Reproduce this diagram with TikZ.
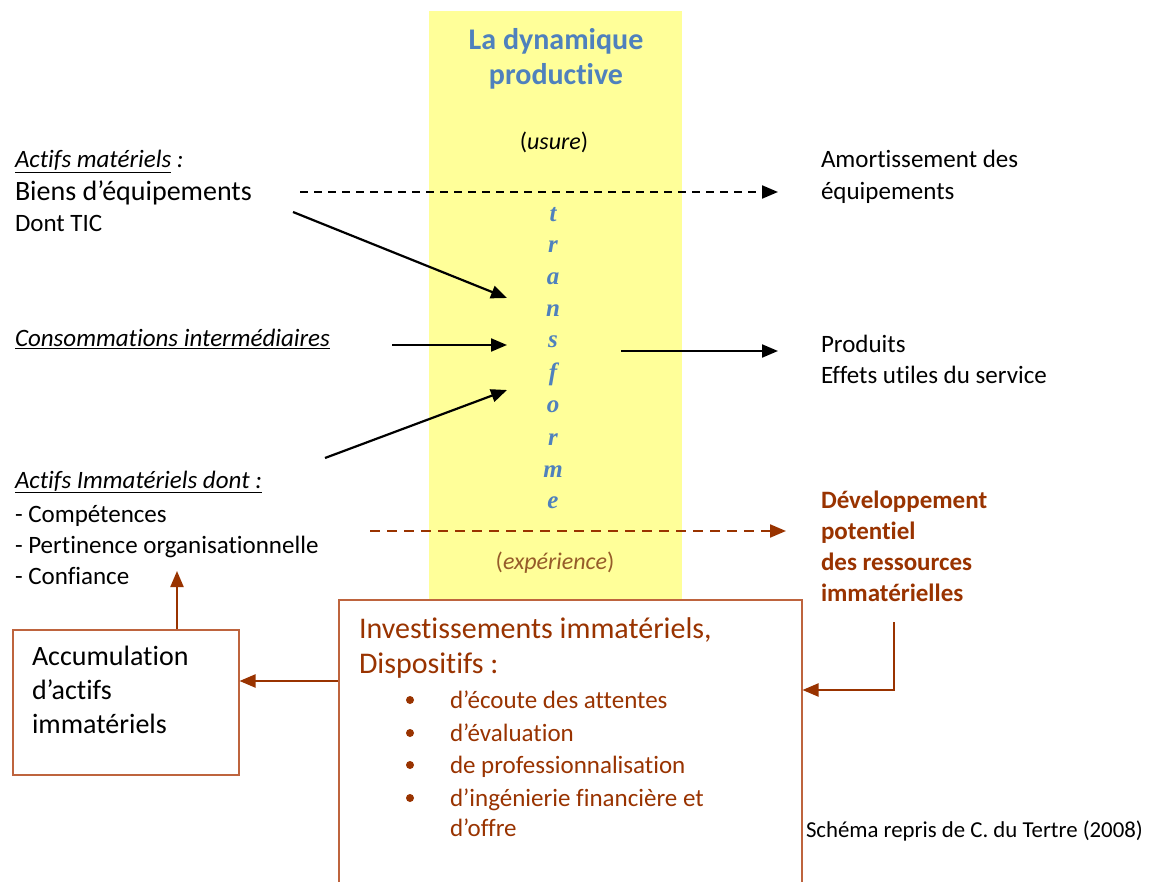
\documentclass[tikz,border=0pt]{standalone}
\usepackage{fontspec}
\setmainfont{Carlito}[Ligatures={NoCommon}]
\newfontfamily\lettersfont{Liberation Serif}
\usetikzlibrary{arrows.meta}
\definecolor{titleblue}{RGB}{79,129,189}
\definecolor{paleyellow}{RGB}{255,255,153}
\definecolor{rust}{RGB}{153,51,0}
\definecolor{boxbrown}{RGB}{190,100,62}
\definecolor{expcol}{RGB}{150,92,42}
\tikzset{
  txt/.style={anchor=base west, inner sep=0pt, outer sep=0pt},
  body/.style={txt, font=\fontsize{25}{30}\selectfont},
  letter/.style={anchor=base, inner sep=0pt, text=titleblue, font=\lettersfont\bfseries\itshape\fontsize{25}{29}\selectfont},
  blackarrow/.style={line width=2.2pt, -{Triangle[length=16pt,width=13pt]}},
  rustarrow/.style={line width=2.2pt, draw=rust, -{Triangle[length=16pt,width=13pt]}, rust},
  brownbox/.style={draw=boxbrown, line width=1.5pt, inner sep=0pt, anchor=north west},
}
\begin{document}
\begin{tikzpicture}[x=1pt,y=-1pt]
\useasboundingbox[fill=white] (0,0) rectangle (1154,882);

% yellow band
\node[fill=paleyellow, inner sep=0pt, anchor=north west, minimum width=253pt, minimum height=588pt] (band) at (429,11) {};

% title
\node[anchor=base, inner sep=0pt, text=titleblue, font=\bfseries\fontsize{30}{36}\selectfont] (t1) at (556,50) {La dynamique};
\node[anchor=base, inner sep=0pt, text=titleblue, font=\bfseries\fontsize{30}{36}\selectfont] (t2) at (556,85) {productive};
\node[anchor=base, inner sep=0pt, font=\fontsize{24}{29}\selectfont] (usure) at (554,150) {(\textit{usure})};

% vertical letters
\node[letter] (l1) at (553,222) {t};
\node[letter] (l2) at (553,253) {r};
\node[letter] (l3) at (553,285) {a};
\node[letter] (l4) at (553,317) {n};
\node[letter] (l5) at (553,348) {s};
\node[letter] (l6) at (553,381) {f};
\node[letter] (l7) at (553,413) {o};
\node[letter] (l8) at (553,445) {r};
\node[letter] (l9) at (553,477) {m};
\node[letter] (l10) at (553,508) {e};

\node[anchor=base, inner sep=0pt, text=expcol, font=\fontsize{24}{29}\selectfont] (exp) at (555,569) {(\textit{expérience})};

% left texts
\node[body] (am) at (15,168) {\textit{\underline{Actifs matériels}} \textit{:}};
\node[txt, font=\fontsize{28}{33}\selectfont] (biens) at (15,201) {Biens d’équipements};
\node[body] (tic) at (15,232) {Dont TIC};
\node[body] (ci) at (15,347) {\textit{\underline{Consommations intermédiaires}}};
\node[body] (ai) at (15,488) {\textit{\underline{Actifs Immatériels dont :}}};
\node[body] (c1) at (15,522) {- Compétences};
\node[body] (c2) at (15,553) {- Pertinence organisationnelle};
\node[body] (c3) at (15,584) {- Confiance};

% right texts
\node[body] (amo1) at (821,168) {Amortissement des};
\node[body] (amo2) at (821,200) {équipements};
\node[body] (pr1) at (821,353) {Produits};
\node[body] (pr2) at (821,384) {Effets utiles du service};
\node[body, text=rust, font=\bfseries\fontsize{25}{30}\selectfont] (d1) at (821,508) {Développement};
\node[body, text=rust, font=\bfseries\fontsize{25}{30}\selectfont] (d2) at (821,539) {potentiel};
\node[body, text=rust, font=\bfseries\fontsize{25}{30}\selectfont] (d3) at (821,570) {des ressources};
\node[body, text=rust, font=\bfseries\fontsize{25}{30}\selectfont] (d4) at (821,601) {immatérielles};

% boxes
\node[brownbox, minimum width=226pt, minimum height=145pt] (acc) at (12,629) {};
\node[txt, font=\fontsize{28}{34}\selectfont] (acc1) at (32,665) {Accumulation};
\node[txt, font=\fontsize{28}{34}\selectfont] (acc2) at (32,699) {d’actifs};
\node[txt, font=\fontsize{28}{34}\selectfont] (acc3) at (32,733) {immatériels};

\node[brownbox, fill=white, minimum width=463pt, minimum height=300pt] (inv) at (338,599) {};
\node[txt, text=rust, font=\fontsize{30}{36}\selectfont] (inv1) at (359,638) {Investissements immatériels,};
\node[txt, text=rust, font=\fontsize{30}{36}\selectfont] (inv2) at (359,673) {Dispositifs :};
\foreach \i/\y/\t in {1/708/{d’écoute des attentes},2/741/{d’évaluation},3/773/{de professionnalisation},4/806/{d’ingénierie financière et}}{
  \fill[rust] (410,\y-8) circle (4pt);
  \node[body, text=rust] (it\i) at (450,\y) {\t};
}
\node[body, text=rust] (it5) at (450,836) {d’offre};

\node[txt, font=\fontsize{22.8}{27}\selectfont] (src) at (806,837) {Schéma repris de C. du Tertre (2008)};

% connector coordinates
\coordinate (a1s) at (300,192);
\coordinate (a1e) at (778,192);
\coordinate (a2s) at (293,212);
\coordinate (a2e) at (507,298);
\coordinate (a3s) at (392,345);
\coordinate (a3e) at (507,345);
\coordinate (a4s) at (325,458);
\coordinate (a4e) at (507,390);
\coordinate (a5s) at (621,351);
\coordinate (a5e) at (778,351);
\coordinate (a6s) at (370,531);
\coordinate (a6e) at (786,531);
\coordinate (a7e) at (177,571);
\coordinate (a8s) at (894,622);
\coordinate (a8m) at (894,690);

% black connectors
\draw[blackarrow, dash pattern=on 8pt off 6pt] (a1s) -- (a1e);
\draw[blackarrow] (a2s) -- (a2e);
\draw[blackarrow] (a3s) -- (a3e);
\draw[blackarrow] (a4s) -- (a4e);
\draw[blackarrow] (a5s) -- (a5e);

% rust connectors
\draw[rustarrow, dash pattern=on 10pt off 7pt] (a6s) -- (a6e);
\draw[rustarrow] (acc.north -| a7e) -- (a7e);
\draw[rustarrow] (inv.west |- 0,681) -- (acc.east |- 0,681);
\draw[rustarrow] (a8s) -- (a8m) -- (inv.east |- a8m);
\end{tikzpicture}
\end{document}
